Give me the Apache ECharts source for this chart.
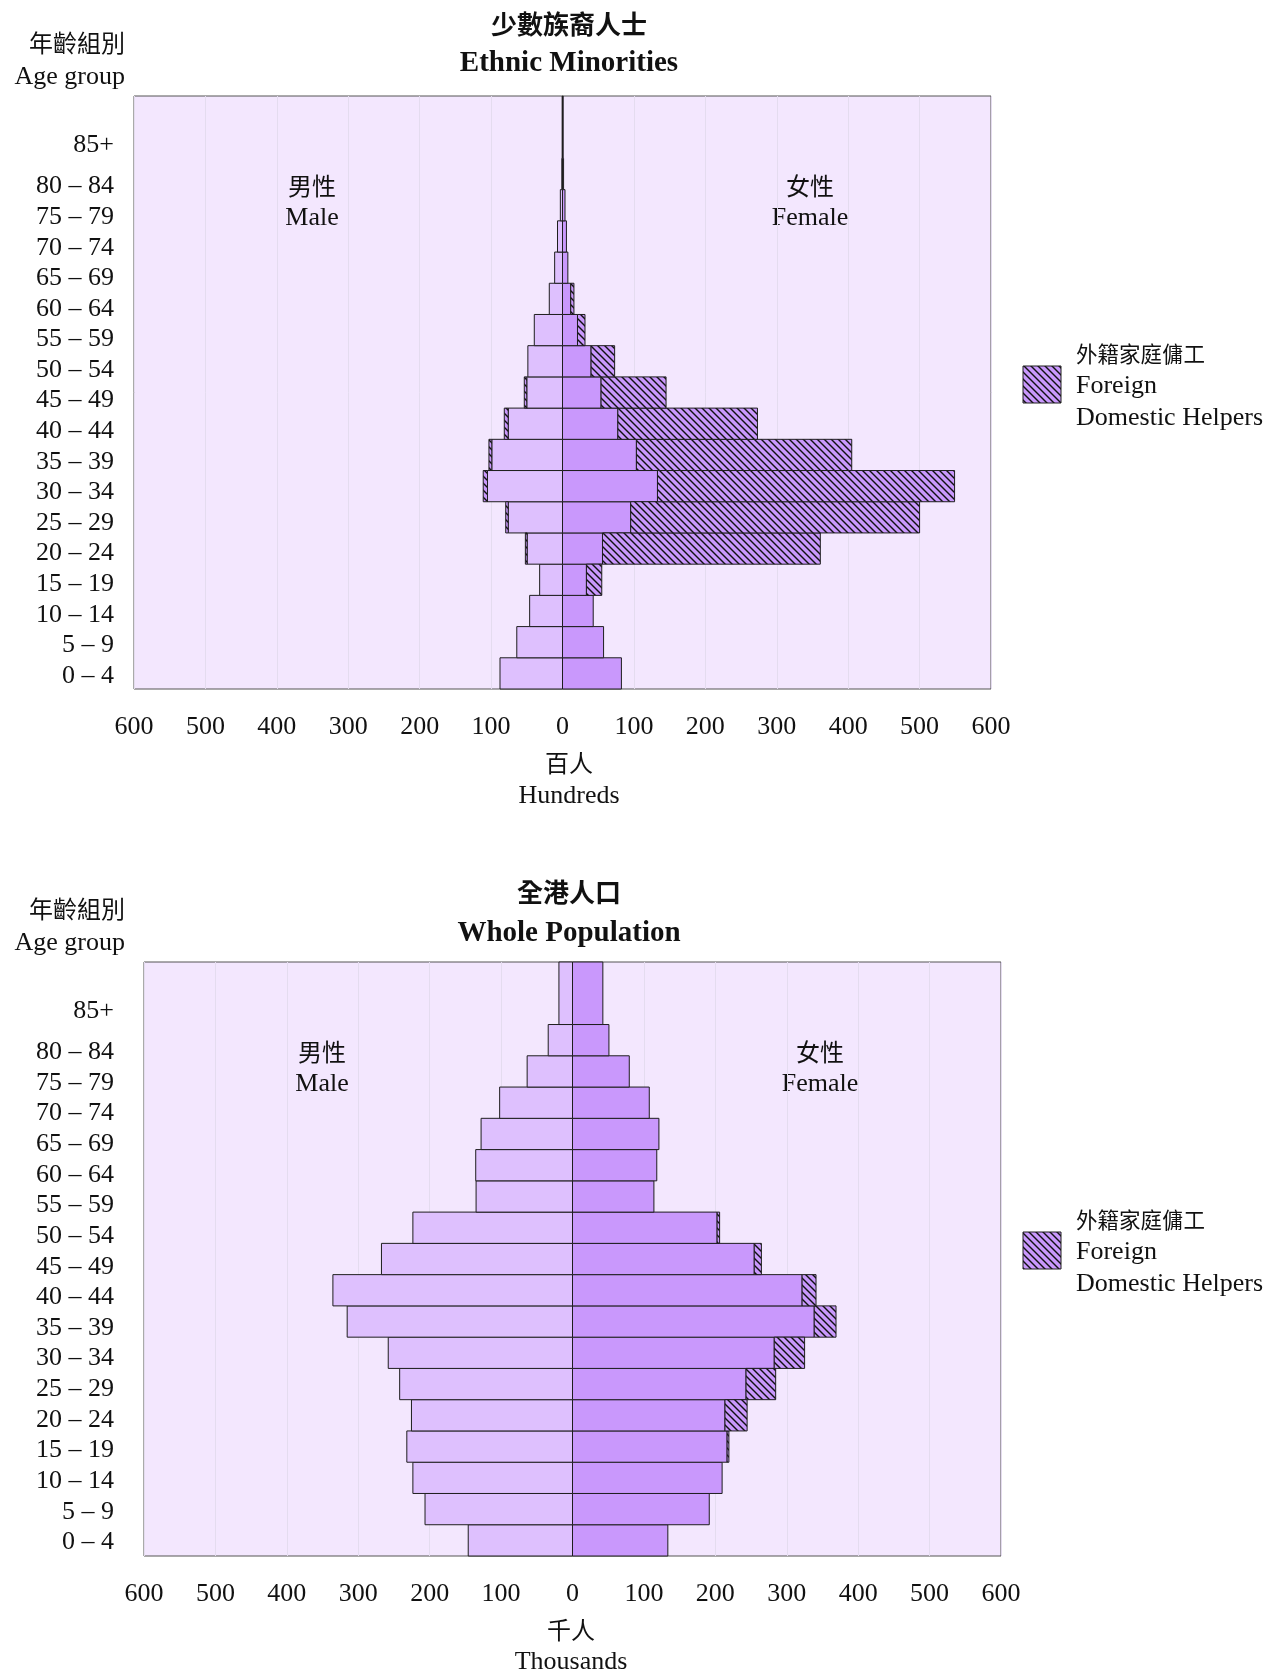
<!DOCTYPE html>
<html>
<head>
<meta charset="utf-8">
<script src="https://cdn.jsdelivr.net/npm/echarts@6/dist/echarts.min.js"></script>
<style>
html,body{margin:0;padding:0;background:#fff;}
#chart{width:1271px;height:1674px;}
</style>
</head>
<body>
<div id="chart"></div>
<script>
// ---- Data ----
const ageGroups = ['0 – 4', '5 – 9', '10 – 14', '15 – 19', '20 – 24', '25 – 29', '30 – 34', '35 – 39', '40 – 44', '45 – 49', '50 – 54', '55 – 59', '60 – 64', '65 – 69', '70 – 74', '75 – 79', '80 – 84', '85+'];
const xTicks = [-600, -500, -400, -300, -200, -100, 0, 100, 200, 300, 400, 500, 600];

// Ethnic minorities (hundreds)
const emMale      = [87.5, 64, 46, 32, 49.5, 76, 105, 99, 76, 50, 48.5, 39.5, 18.5, 11, 7, 3, 1, 0.5];
const emMaleFDH   = [0, 0, 0, 0, 2.5, 3.5, 6, 4, 5.5, 3.5, 0, 0, 0, 0, 0, 0, 0, 0];
const emFemale    = [82.5, 57.5, 43, 33.5, 56, 95.5, 133, 103.5, 77.5, 54, 40, 21, 11.5, 7.5, 5.5, 3.5, 1.5, 1];
const emFemaleFDH = [0, 0, 0, 21.5, 305, 404.5, 416, 301.5, 195.5, 91, 33, 10.5, 4.5, 0, 0, 0, 0, 0];

// Whole population (thousands)
const wpMale      = [146, 206.5, 223.5, 232, 225.5, 242, 258, 315.5, 335.5, 267.5, 223.5, 135, 135.5, 128, 102, 63.5, 34, 19];
const wpMaleFDH   = [0, 0, 0, 0, 0, 0, 0, 0, 0, 0, 0, 0, 0, 0, 0, 0, 0, 0];
const wpFemale    = [133.5, 191.5, 209.5, 216.5, 213.5, 243, 282.5, 338.5, 321.5, 254.5, 202.5, 114, 118, 121, 107.5, 79.5, 51, 42.5];
const wpFemaleFDH = [0, 0, 0, 2.5, 31, 41.5, 42.5, 30.5, 19.5, 10, 3.5, 0, 0, 0, 0, 0, 0, 0];

// ---- Styling ----
const SERIF = 'Liberation Serif';
const CJK = 'Noto Sans CJK TC';
const MALE_COLOR = '#dec0fe';
const FEMALE_COLOR = '#c998fc';
const BG = '#f3e7fe';
const EDGE = '#1e1e1e';

// hatch pattern
const pc = document.createElement('canvas');
pc.width = 7; pc.height = 7;
const g = pc.getContext('2d');
g.fillStyle = FEMALE_COLOR; g.fillRect(0, 0, 7, 7);
g.strokeStyle = '#111'; g.lineWidth = 1.4;
[-7, 0, 7].forEach(dx => {
  g.beginPath(); g.moveTo(dx - 1, -1); g.lineTo(dx + 8, 8); g.stroke();
});
const hatch = { image: pc, repeat: 'repeat' };

const ySlots = ageGroups.concat(['']);
const lastIdx = ageGroups.length - 1;
// label positions (age-group label axis): regular groups at 0..16, open-ended group slightly above
const labelValues = ageGroups.map((a, i) => (i === lastIdx ? lastIdx + 0.35 : i));

function renderBar(fill) {
  return function (params, api) {
    const i = api.value(0);
    const a = api.value(1), b = api.value(2);
    const topIdx = i === lastIdx ? i + 1 : i;
    const band = api.size([0, 1])[1];
    const pA = api.coord([a, i]);
    const pB = api.coord([b, topIdx]);
    const yBottom = pA[1] + band / 2;
    const yTop = pB[1] - band / 2;
    return {
      type: 'rect',
      shape: { x: Math.min(pA[0], pB[0]), y: yTop, width: Math.abs(pB[0] - pA[0]), height: yBottom - yTop },
      style: { fill: fill, stroke: EDGE, lineWidth: 1 }
    };
  };
}

function segData(values, offsets, sign) {
  const out = [];
  values.forEach((v, i) => {
    if (v > 0) {
      const o = offsets ? offsets[i] : 0;
      out.push([i, sign * o, sign * (o + v)]);
    }
  });
  return out;
}

function seriesFor(idx, male, maleFDH, female, femaleFDH) {
  const base = { type: 'custom', xAxisIndex: idx, yAxisIndex: idx * 2, encode: { x: [1, 2], y: 0 }, clip: false, silent: true };
  return [
    Object.assign({}, base, { name: 'Male', renderItem: renderBar(MALE_COLOR), data: segData(male, null, -1) }),
    Object.assign({}, base, { name: 'Male FDH', renderItem: renderBar(hatch), data: segData(maleFDH, male, -1) }),
    Object.assign({}, base, { name: 'Female', renderItem: renderBar(FEMALE_COLOR), data: segData(female, null, 1) }),
    Object.assign({}, base, { name: 'Female FDH', renderItem: renderBar(hatch), data: segData(femaleFDH, female, 1) })
  ];
}

function xAxisFor(idx) {
  return {
    type: 'value', gridIndex: idx, min: xTicks[0], max: xTicks[xTicks.length - 1], interval: 100,
    axisLine: { show: false }, axisTick: { show: false },
    splitLine: { show: true, lineStyle: { color: '#e4dcef', width: 1 } },
    axisLabel: { formatter: v => String(Math.abs(v)), fontFamily: SERIF, fontSize: 26, color: '#111', margin: 25 }
  };
}
function yAxesFor(idx, margin, lmin, lmax) {
  return [{
    type: 'category', gridIndex: idx, data: ySlots,
    axisLine: { show: false }, axisTick: { show: false }, splitLine: { show: false },
    axisLabel: { show: false }
  }, {
    type: 'value', gridIndex: idx, position: 'left', offset: 0, min: lmin, max: lmax,
    axisLine: { show: false }, axisTick: { show: false }, splitLine: { show: false },
    axisLabel: {
      customValues: labelValues,
      formatter: v => ageGroups[labelValues.findIndex(x => Math.abs(x - v) < 1e-6)] || '',
      fontFamily: SERIF, fontSize: 26, color: '#111', margin: margin
    }
  }];
}

function txt(x, y, text, size, family, weight, align) {
  return { type: 'text', x: x, y: y, silent: true,
    style: { text: text, fontSize: size, fontFamily: family, fontWeight: weight || 'normal', fill: '#111',
      align: align || 'center', verticalAlign: 'middle' } };
}

function panelGraphics(dy, plotLeft) {
  const off = plotLeft - 134;
  return [
    txt(125, 43 + dy, '年齡組別', 24, CJK, 'normal', 'right'),
    txt(125, 77 + dy, 'Age group', 26, SERIF, 'normal', 'right'),
    txt(312 + off, 186 + dy, '男性', 24, CJK),
    txt(312 + off, 218 + dy, 'Male', 26, SERIF),
    txt(810 + off, 186 + dy, '女性', 24, CJK),
    txt(810 + off, 218 + dy, 'Female', 26, SERIF),
    { type: 'rect', shape: { x: 1023, y: 366 + dy, width: 38, height: 37 }, silent: true,
      style: { fill: hatch, stroke: EDGE, lineWidth: 1 } },
    txt(1076, 354 + dy, '外籍家庭傭工', 21.5, CJK, 'normal', 'left'),
    txt(1076, 386 + dy, 'Foreign', 26, SERIF, 'normal', 'left'),
    txt(1076, 418 + dy, 'Domestic Helpers', 26, SERIF, 'normal', 'left')
  ];
}

const graphics = [].concat(
  [txt(569, 24, '少數族裔人士', 26, CJK, 'bold'),
   txt(569, 64, 'Ethnic Minorities', 29, SERIF, 'bold'),
   txt(569, 763, '百人', 24, CJK),
   txt(569, 796, 'Hundreds', 26, SERIF)],
  panelGraphics(0, 134),
  [txt(569, 892, '全港人口', 26, CJK, 'bold'),
   txt(569, 934, 'Whole Population', 29, SERIF, 'bold'),
   txt(571, 1630, '千人', 24, CJK),
   txt(571, 1662, 'Thousands', 26, SERIF)],
  panelGraphics(866, 144)
);

const chart = echarts.init(document.getElementById('chart'), null, { renderer: 'canvas' });
chart.setOption({
  backgroundColor: '#ffffff',
  animation: false,
  grid: [
    { left: 134, top: 96, width: 857, height: 593, show: true, backgroundColor: BG, borderColor: '#555', borderWidth: 1 },
    { left: 144, top: 962, width: 857, height: 594, show: true, backgroundColor: BG, borderColor: '#555', borderWidth: 1 }
  ],
  xAxis: [xAxisFor(0), xAxisFor(1)],
  yAxis: [].concat(yAxesFor(0, 20, -0.431, 18.964), yAxesFor(1, 30, -0.441, 18.946)),
  series: [].concat(
    seriesFor(0, emMale, emMaleFDH, emFemale, emFemaleFDH),
    seriesFor(1, wpMale, wpMaleFDH, wpFemale, wpFemaleFDH)
  ),
  graphic: graphics
});
</script>
</body>
</html>
